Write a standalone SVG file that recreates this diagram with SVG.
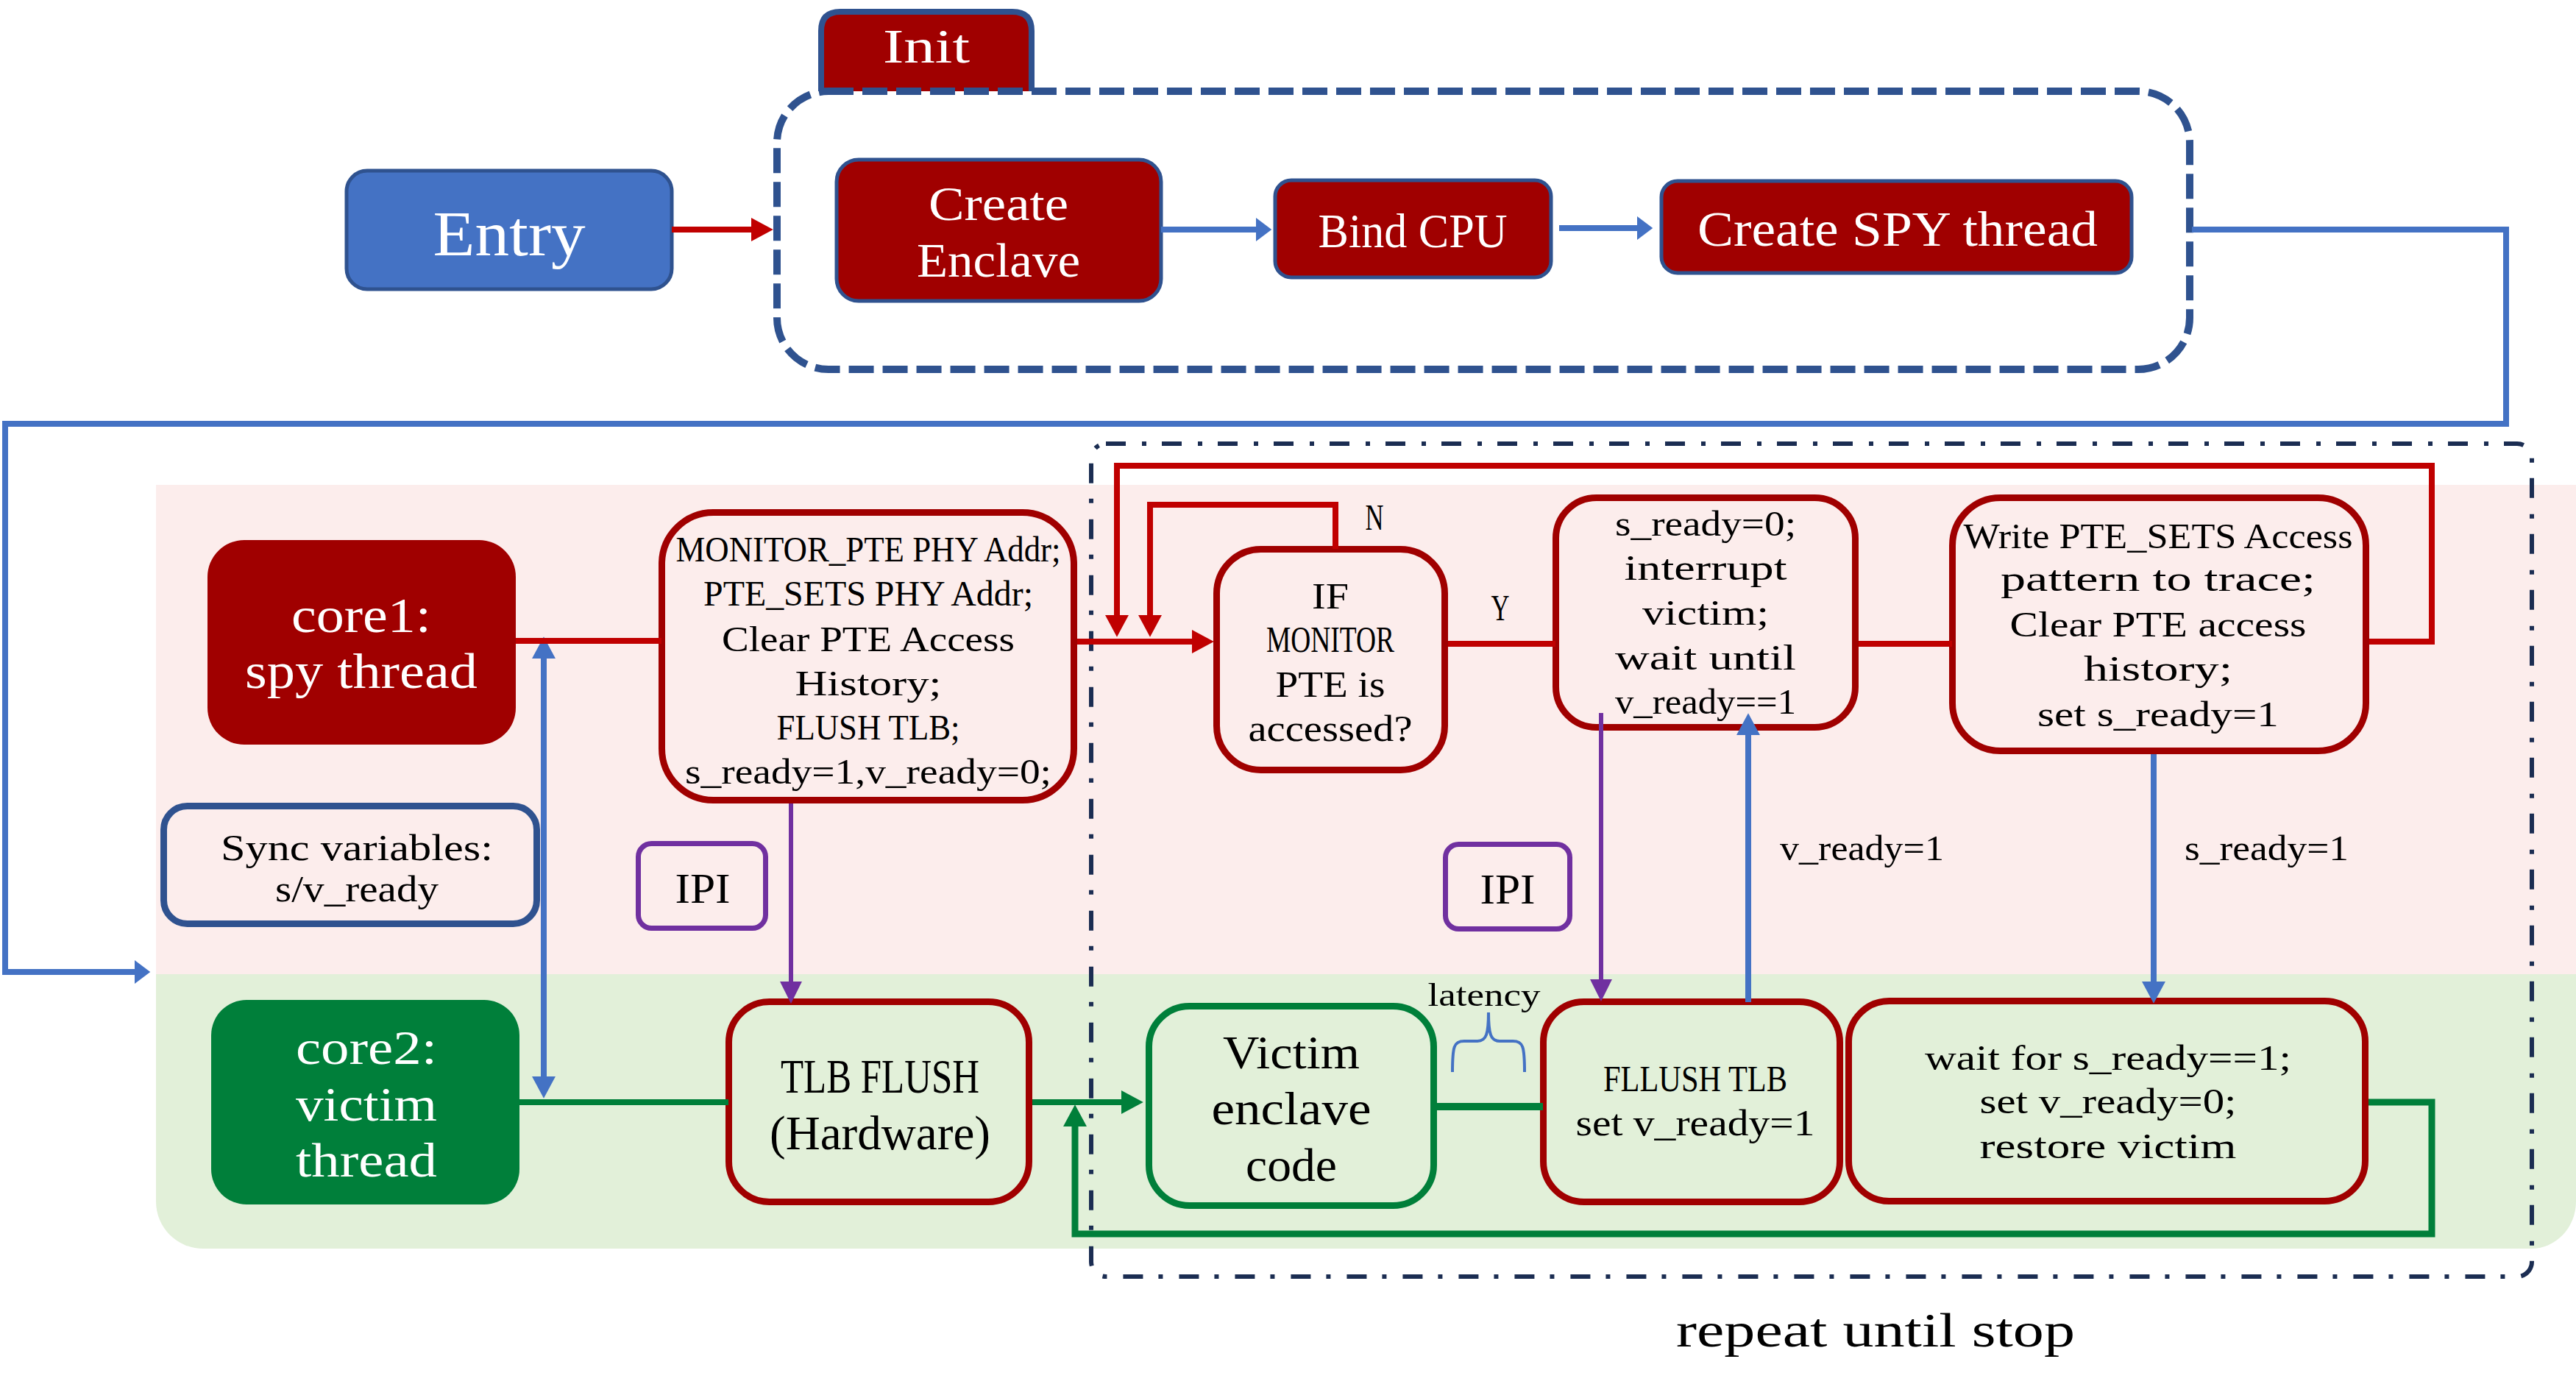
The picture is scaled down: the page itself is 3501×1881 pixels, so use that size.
<svg xmlns="http://www.w3.org/2000/svg" width="3501" height="1881" viewBox="0 0 3501 1881">
<style>
.t{font-family:"Liberation Serif","DejaVu Serif",serif;text-anchor:middle}
.l{text-anchor:start}
.w{fill:#ffffff}
.k{fill:#000000}
.solid{stroke:#2F528F;stroke-width:5}
.redbox{fill:none;stroke:#A00000;stroke-width:9}
.purbox{fill:none;stroke:#7030A0;stroke-width:7}
.c{fill:none;stroke-linejoin:miter}
.cr{stroke:#C00000;stroke-width:8}
.cb{stroke:#4472C4;stroke-width:8}
.cp{stroke:#7030A0;stroke-width:6}
.cg{stroke:#007F3A;stroke-width:8}
</style>
<defs>
<marker id="mRed" markerUnits="userSpaceOnUse" markerWidth="30" markerHeight="32" viewBox="0 0 28 30" refX="1" refY="15" orient="auto"><path d="M0,0 L28,15 L0,30 z" fill="#C00000"/></marker>
<marker id="mBlue" markerUnits="userSpaceOnUse" markerWidth="30" markerHeight="32" viewBox="0 0 28 30" refX="1" refY="15" orient="auto-start-reverse"><path d="M0,0 L28,15 L0,30 z" fill="#4472C4"/></marker>
<marker id="mBlueS" markerUnits="userSpaceOnUse" markerWidth="22" markerHeight="32" viewBox="0 0 20 30" refX="1" refY="15" orient="auto"><path d="M0,0 L20,15 L0,30 z" fill="#4472C4"/></marker>
<marker id="mPur" markerUnits="userSpaceOnUse" markerWidth="30" markerHeight="30" viewBox="0 0 28 28" refX="1" refY="14" orient="auto"><path d="M0,0 L28,14 L0,28 z" fill="#7030A0"/></marker>
<marker id="mGreen" markerUnits="userSpaceOnUse" markerWidth="30" markerHeight="32" viewBox="0 0 28 30" refX="1" refY="15" orient="auto"><path d="M0,0 L28,15 L0,30 z" fill="#007F3A"/></marker>
</defs>
<rect x="0" y="0" width="3501" height="1881" fill="#ffffff"/>

<g id="bands">
<rect x="212" y="659" width="3289" height="666" fill="#FCEDEC"/>
<path d="M212,1324 H3501 V1633 A61,64 0 0 1 3440,1697 H276 A64,64 0 0 1 212,1633 Z" fill="#E2F0D9"/>
</g>

<g id="init-group">
<path d="M1116,124 V42 Q1116,16 1142,16 H1376 Q1402,16 1402,42 V124" fill="#A00000" stroke="#2F528F" stroke-width="8"/>
<text class="t w" x="1259" y="85" font-size="65" textLength="118" lengthAdjust="spacingAndGlyphs">Init</text>
<rect x="1056" y="124" width="1920" height="378" rx="70" fill="none" stroke="#2F528F" stroke-width="10" stroke-dasharray="34 12"/>
</g>

<g id="repeat-loop">
<rect x="1483" y="603" width="1958" height="1132" rx="20" fill="none" stroke="#1B2D52" stroke-width="6" stroke-dasharray="27 22 6 21"/>
<text class="t k" x="2549" y="1830" font-size="66" textLength="542" lengthAdjust="spacingAndGlyphs">repeat until stop</text>
</g>

<g id="entry">
<rect x="471" y="232" width="442" height="161" rx="28" fill="#4472C4" class="solid"/>
<text class="t w" x="692" y="347" font-size="86" textLength="207" lengthAdjust="spacingAndGlyphs">Entry</text>
</g>
<g id="create-enclave">
<rect x="1137" y="217" width="441" height="192" rx="30" fill="#A00000" class="solid"/>
<text class="t w" x="1357" y="299" font-size="66" textLength="190" lengthAdjust="spacingAndGlyphs">Create</text>
<text class="t w" x="1357" y="376" font-size="66" textLength="222" lengthAdjust="spacingAndGlyphs">Enclave</text>
</g>
<g id="bind-cpu">
<rect x="1733" y="245" width="375" height="132" rx="22" fill="#A00000" class="solid"/>
<text class="t w" x="1920" y="336" font-size="65" textLength="257" lengthAdjust="spacingAndGlyphs">Bind CPU</text>
</g>
<g id="create-spy">
<rect x="2258" y="246" width="639" height="125" rx="22" fill="#A00000" class="solid"/>
<text class="t w" x="2579" y="334" font-size="68" textLength="544" lengthAdjust="spacingAndGlyphs">Create SPY thread</text>
</g>

<g id="core1">
<rect x="282" y="734" width="419" height="278" rx="50" fill="#A00000"/>
<text class="t w" x="491" y="859" font-size="68" textLength="190" lengthAdjust="spacingAndGlyphs">core1:</text>
<text class="t w" x="491" y="935" font-size="68" textLength="316" lengthAdjust="spacingAndGlyphs">spy thread</text>
</g>
<g id="sync">
<rect x="222.5" y="1095.5" width="507" height="160" rx="32" fill="none" stroke="#2F528F" stroke-width="9"/>
<text class="t k" x="485" y="1169" font-size="50" textLength="370" lengthAdjust="spacingAndGlyphs">Sync variables:</text>
<text class="t k" x="485" y="1225" font-size="50" textLength="222" lengthAdjust="spacingAndGlyphs">s/v_ready</text>
</g>
<g id="monitor">
<rect x="899.5" y="696.5" width="560" height="391" rx="70" class="redbox"/>
<text class="t k" x="1180" y="763" font-size="48" textLength="523" lengthAdjust="spacingAndGlyphs">MONITOR_PTE PHY Addr;</text>
<text class="t k" x="1180" y="823" font-size="48" textLength="448" lengthAdjust="spacingAndGlyphs">PTE_SETS PHY Addr;</text>
<text class="t k" x="1180" y="885" font-size="48" textLength="398" lengthAdjust="spacingAndGlyphs">Clear PTE Access</text>
<text class="t k" x="1180" y="945" font-size="48" textLength="199" lengthAdjust="spacingAndGlyphs">History;</text>
<text class="t k" x="1180" y="1005" font-size="48" textLength="249" lengthAdjust="spacingAndGlyphs">FLUSH TLB;</text>
<text class="t k" x="1180" y="1065" font-size="48" textLength="498" lengthAdjust="spacingAndGlyphs">s_ready=1,v_ready=0;</text>
</g>
<g id="if-accessed">
<rect x="1653.5" y="746.5" width="310" height="300" rx="60" class="redbox"/>
<text class="t k" x="1808" y="827" font-size="50" textLength="50" lengthAdjust="spacingAndGlyphs">IF</text>
<text class="t k" x="1808" y="886" font-size="50" textLength="174" lengthAdjust="spacingAndGlyphs">MONITOR</text>
<text class="t k" x="1808" y="947" font-size="50" textLength="149" lengthAdjust="spacingAndGlyphs">PTE is</text>
<text class="t k" x="1808" y="1007" font-size="50" textLength="223" lengthAdjust="spacingAndGlyphs">accessed?</text>
</g>
<g id="interrupt">
<rect x="2114.5" y="676.5" width="407" height="312" rx="55" class="redbox"/>
<text class="t k" x="2318" y="728" font-size="48" textLength="246" lengthAdjust="spacingAndGlyphs">s_ready=0;</text>
<text class="t k" x="2318" y="788" font-size="48" textLength="221" lengthAdjust="spacingAndGlyphs">interrupt</text>
<text class="t k" x="2318" y="849" font-size="48" textLength="172" lengthAdjust="spacingAndGlyphs">victim;</text>
<text class="t k" x="2318" y="910" font-size="48" textLength="246" lengthAdjust="spacingAndGlyphs">wait until</text>
<text class="t k" x="2318" y="970" font-size="48" textLength="246" lengthAdjust="spacingAndGlyphs">v_ready==1</text>
</g>
<g id="write-pattern">
<rect x="2653.5" y="676.5" width="562" height="344" rx="65" class="redbox"/>
<text class="t k" x="2933" y="745" font-size="48" textLength="529" lengthAdjust="spacingAndGlyphs">Write PTE_SETS Access</text>
<text class="t k" x="2933" y="803" font-size="48" textLength="428" lengthAdjust="spacingAndGlyphs">pattern to trace;</text>
<text class="t k" x="2933" y="865" font-size="48" textLength="403" lengthAdjust="spacingAndGlyphs">Clear PTE access</text>
<text class="t k" x="2933" y="925" font-size="48" textLength="202" lengthAdjust="spacingAndGlyphs">history;</text>
<text class="t k" x="2933" y="987" font-size="48" textLength="328" lengthAdjust="spacingAndGlyphs">set s_ready=1</text>
</g>
<g id="ipi1">
<rect x="867.5" y="1146.5" width="173" height="115" rx="18" class="purbox"/>
<text class="t k" x="955" y="1227" font-size="56" textLength="75" lengthAdjust="spacingAndGlyphs">IPI</text>
</g>
<g id="ipi2">
<rect x="1964.5" y="1147.5" width="169" height="115" rx="18" class="purbox"/>
<text class="t k" x="2049" y="1228" font-size="56" textLength="75" lengthAdjust="spacingAndGlyphs">IPI</text>
</g>
<g id="core2">
<rect x="287" y="1359" width="419" height="278" rx="48" fill="#007F3A"/>
<text class="t w" x="498" y="1446" font-size="66" textLength="192" lengthAdjust="spacingAndGlyphs">core2:</text>
<text class="t w" x="498" y="1523" font-size="66" textLength="192" lengthAdjust="spacingAndGlyphs">victim</text>
<text class="t w" x="498" y="1599" font-size="66" textLength="192" lengthAdjust="spacingAndGlyphs">thread</text>
</g>
<g id="tlb-flush">
<rect x="990.5" y="1361.5" width="408" height="272" rx="55" class="redbox"/>
<text class="t k" x="1196" y="1485" font-size="65" textLength="270" lengthAdjust="spacingAndGlyphs">TLB FLUSH</text>
<text class="t k" x="1196" y="1562" font-size="65" textLength="300" lengthAdjust="spacingAndGlyphs">(Hardware)</text>
</g>
<g id="victim-code">
<rect x="1561.5" y="1367.5" width="387" height="271" rx="55" fill="none" stroke="#007F3A" stroke-width="9"/>
<text class="t k" x="1755" y="1452" font-size="64" textLength="186" lengthAdjust="spacingAndGlyphs">Victim</text>
<text class="t k" x="1755" y="1528" font-size="64" textLength="217" lengthAdjust="spacingAndGlyphs">enclave</text>
<text class="t k" x="1755" y="1605" font-size="64" textLength="124" lengthAdjust="spacingAndGlyphs">code</text>
</g>
<g id="fllush-tlb">
<rect x="2097.5" y="1361.5" width="403" height="272" rx="55" class="redbox"/>
<text class="t k" x="2304" y="1483" font-size="50" textLength="250" lengthAdjust="spacingAndGlyphs">FLLUSH TLB</text>
<text class="t k" x="2304" y="1543" font-size="50" textLength="325" lengthAdjust="spacingAndGlyphs">set v_ready=1</text>
</g>
<g id="wait-restore">
<rect x="2512.5" y="1360.5" width="702" height="272" rx="55" class="redbox"/>
<text class="t k" x="2865" y="1454" font-size="48" textLength="498" lengthAdjust="spacingAndGlyphs">wait for s_ready==1;</text>
<text class="t k" x="2865" y="1513" font-size="48" textLength="349" lengthAdjust="spacingAndGlyphs">set v_ready=0;</text>
<text class="t k" x="2865" y="1574" font-size="48" textLength="349" lengthAdjust="spacingAndGlyphs">restore victim</text>
</g>

<g id="connectors">
<path class="c cr" d="M913,312 H1022" marker-end="url(#mRed)"/>
<path class="c cb" d="M1578,312 H1708" marker-end="url(#mBlueS)"/>
<path class="c cb" d="M2119,310 H2226" marker-end="url(#mBlueS)"/>
<path class="c cb" d="M2979,312 H3406 V576 H7 V1321 H184" marker-end="url(#mBlueS)"/>
<path class="c cb" d="M739,894 V1464" marker-start="url(#mBlue)" marker-end="url(#mBlue)"/>
<path class="c cr" d="M701,871 H899"/>
<path class="c cr" d="M1464,872 H1621" marker-end="url(#mRed)"/>
<path class="c cr" d="M1815,746 V686 H1563 V837" marker-end="url(#mRed)"/>
<path class="c cr" d="M3220,872 H3305 V633 H1518 V837" marker-end="url(#mRed)"/>
<path class="c cr" d="M1968,875 H2114"/>
<path class="c cr" d="M2526,875 H2653"/>
<path class="c cp" d="M1075,1092 V1335" marker-end="url(#mPur)"/>
<path class="c cp" d="M2176,969 V1332" marker-end="url(#mPur)"/>
<path class="c cb" d="M2376,1362 V998" marker-end="url(#mBlue)"/>
<path class="c cb" d="M2927,1025 V1335" marker-end="url(#mBlue)"/>
<path class="c cg" d="M706,1498 H990"/>
<path class="c cg" d="M1403,1498 H1525" marker-end="url(#mGreen)"/>
<path class="c cg" d="M1953,1504 H2097" style="stroke-width:10"/>
<path class="c cg" d="M3219,1498 H3305 V1677 H1461 V1530" style="stroke-width:9" marker-end="url(#mGreen)"/>
<path d="M1974,1457 C1974,1422 1976,1415 1990,1415 H2008 C2020,1415 2023,1405 2023,1376 C2023,1405 2026,1415 2038,1415 H2056 C2070,1415 2072,1422 2072,1457" fill="none" stroke="#4472C4" stroke-width="4"/>
</g>

<g id="labels">
<text class="t k" x="1868" y="720" font-size="50" textLength="25" lengthAdjust="spacingAndGlyphs">N</text>
<text class="t k" x="2039" y="843" font-size="50" textLength="25" lengthAdjust="spacingAndGlyphs">Y</text>
<text class="t k l" x="2419" y="1169" font-size="48" textLength="223" lengthAdjust="spacingAndGlyphs">v_ready=1</text>
<text class="t k l" x="2969" y="1169" font-size="48" textLength="223" lengthAdjust="spacingAndGlyphs">s_ready=1</text>
<text class="t k" x="2017" y="1367" font-size="44" textLength="153" lengthAdjust="spacingAndGlyphs">latency</text>
</g>
</svg>
